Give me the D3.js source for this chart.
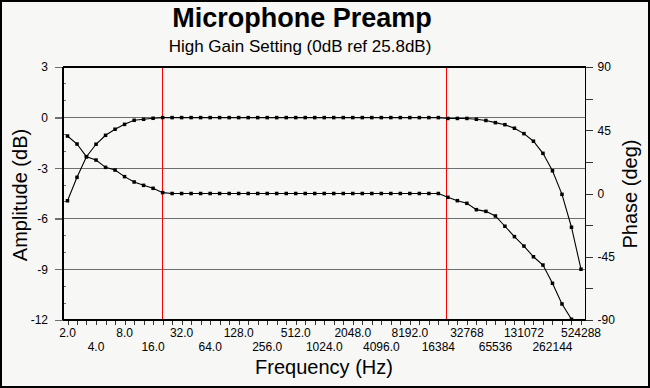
<!DOCTYPE html>
<html>
<head>
<meta charset="utf-8">
<script src="https://cdn.jsdelivr.net/npm/d3@7"></script>
<style>
  body { margin: 0; background: #f7f7f5; }
  svg { display: block; font-family: "Liberation Sans", Arial, sans-serif; }
  .crisp line { shape-rendering: crispEdges; }
</style>
</head>
<body>
<div id="chart"></div>
<script>
// 1/3 octave test frequencies (Hz)
const freqs = [2.0, 2.52, 3.17, 4.0, 5.04, 6.35, 8.0, 10.1, 12.7, 16.0, 20.2, 25.4,
  32.0, 40.3, 50.8, 64.0, 80.6, 101.6, 128.0, 161.3, 203.2, 256.0, 322.5, 406.4,
  512.0, 645.1, 812.7, 1024, 1290, 1625, 2048, 2580, 3251, 4096, 5161, 6502,
  8192, 10321, 13004, 16384, 20643, 26008, 32768, 41285, 52016, 65536, 82570, 104032,
  131072, 165140, 208064, 262144, 330281, 416128, 524288];

const amplitude = [-4.93, -3.54, -2.32, -1.58, -1.05, -0.69, -0.40, -0.16, -0.10, -0.04, 0, 0,
  0, 0, 0, 0, 0, 0, 0, 0, 0, 0, 0, 0,
  0, 0, 0, 0, 0, 0, 0, 0, 0, 0, 0, 0,
  0, 0, 0, 0, -0.05, -0.05, -0.05, -0.10, -0.17, -0.30, -0.42, -0.63,
  -0.95, -1.40, -2.12, -3.15, -4.55, -6.50, -8.99];

const phase = [40.9, 35.2, 26.2, 23.8, 18.6, 16.7, 12.0, 8.2, 5.8, 3.7, 0.6, 0,
  0, 0, 0, 0, 0, 0, 0, 0, 0, 0, 0, 0,
  0, 0, 0, 0, 0, 0, 0, 0, 0, 0, 0, 0,
  0, 0, 0, 0, -2.7, -5.1, -7.0, -11.5, -12.7, -16.0, -23.3, -30.7,
  -37.4, -45.0, -50.9, -63.9, -78.6, -89.5, -112];

const ampTicks = [3, 0, -3, -6, -9, -12];
const ampGrid = [0, -3, -6, -9];
const ampMinor = [2, 1, -1, -2, -4, -5, -7, -8, -10, -11];
const phaseTicks = [90, 67.5, 45, 22.5, 0, -22.5, -45, -67.5, -90];
const octaves = [2, 4, 8, 16, 32, 64, 128, 256, 512, 1024, 2048, 4096, 8192,
  16384, 32768, 65536, 131072, 262144, 524288];
const octaveLabels = ["2.0", "4.0", "8.0", "16.0", "32.0", "64.0", "128.0", "256.0",
  "512.0", "1024.0", "2048.0", "4096.0", "8192.0", "16384", "32768", "65536",
  "131072", "262144", "524288"];
const markers = [20, 20000];

let width = 650,
    height = 388;

let plotL = 63, plotR = 585.5, plotT = 67, plotB = 320;

let svg = d3.select("#chart").append("svg")
  .attr("width", width)
  .attr("height", height);

svg.append("rect")
  .attr("x", 1).attr("y", 1)
  .attr("width", width - 2).attr("height", height - 2)
  .attr("fill", "#f7f7f5")
  .attr("stroke", "#000")
  .attr("stroke-width", 2);

let x = d3.scaleLog().base(2)
  .domain([2, 524288])
  .range([67.5, 581]);

let y = d3.scaleLinear()
  .domain([-12, 3])
  .range([plotB, plotT]);

let yPhase = d3.scaleLinear()
  .domain([-90, 90])
  .range([plotB, plotT]);

svg.append("defs").append("clipPath")
  .attr("id", "plot-clip")
  .append("rect")
  .attr("x", plotL).attr("y", plotT)
  .attr("width", plotR - plotL).attr("height", plotB - plotT);

// grid lines
svg.append("g")
  .attr("class", "crisp")
  .selectAll("line")
  .data(ampGrid)
  .enter().append("line")
    .attr("x1", plotL - 8)
    .attr("x2", plotR)
    .attr("y1", d => y(d))
    .attr("y2", d => y(d))
    .attr("stroke", "#6e6e6e")
    .attr("stroke-width", 1);

// left axis
let yAxis = svg.append("g")
  .attr("class", "crisp")
  .attr("transform", `translate(${plotL},0)`)
  .call(d3.axisLeft(y)
    .tickValues(ampTicks)
    .tickSize(8)
    .tickPadding(7)
    .tickFormat(d => d));
yAxis.select(".domain").remove();
yAxis.selectAll("line").attr("stroke", "#6e6e6e");
yAxis.selectAll("text").attr("font-size", 12).attr("fill", "#000")
  .attr("font-family", "Liberation Sans, Arial, sans-serif");

// minor ticks inside left axis
svg.append("g")
  .attr("class", "crisp")
  .selectAll("line")
  .data(ampMinor)
  .enter().append("line")
    .attr("x1", plotL)
    .attr("x2", plotL + 3)
    .attr("y1", d => y(d))
    .attr("y2", d => y(d))
    .attr("stroke", "#6e6e6e");

// right axis
let pAxis = svg.append("g")
  .attr("class", "crisp")
  .attr("transform", `translate(${plotR},0)`)
  .call(d3.axisRight(yPhase)
    .tickValues(phaseTicks)
    .tickSize(7)
    .tickPadding(5)
    .tickFormat(d => d % 45 === 0 ? d : ""));
pAxis.select(".domain").remove();
pAxis.selectAll("line").attr("stroke", "#333");
pAxis.selectAll("text").attr("font-size", 12).attr("fill", "#000")
  .attr("font-family", "Liberation Sans, Arial, sans-serif");

// bottom axis ticks
let xAxis = svg.append("g")
  .attr("class", "crisp")
  .attr("transform", `translate(0,${plotB})`)
  .call(d3.axisBottom(x)
    .tickValues(freqs)
    .tickSize(5)
    .tickFormat(""));
xAxis.select(".domain").remove();
xAxis.selectAll("line").attr("stroke", "#333");

svg.append("g")
  .selectAll("text")
  .data(octaves)
  .enter().append("text")
    .attr("x", d => x(d))
    .attr("y", (d, i) => i % 2 === 0 ? 337 : 351)
    .attr("text-anchor", "middle")
    .attr("font-size", 12)
    .attr("fill", "#000")
    .text((d, i) => octaveLabels[i]);

// red marker lines
svg.append("g")
  .attr("class", "crisp")
  .selectAll("line")
  .data(markers)
  .enter().append("line")
    .attr("x1", d => x(d))
    .attr("x2", d => x(d))
    .attr("y1", plotT)
    .attr("y2", plotB)
    .attr("stroke", "#ff0000")
    .attr("stroke-width", 1);

// plot frame
let frame = svg.append("g").attr("class", "crisp");
frame.append("line").attr("x1", plotL).attr("x2", plotR).attr("y1", plotT).attr("y2", plotT)
  .attr("stroke", "#000").attr("stroke-width", 1.5);
frame.append("line").attr("x1", plotL).attr("x2", plotR).attr("y1", plotB).attr("y2", plotB)
  .attr("stroke", "#000").attr("stroke-width", 1.5);
frame.append("line").attr("x1", plotL).attr("x2", plotL).attr("y1", plotT).attr("y2", plotB)
  .attr("stroke", "#000").attr("stroke-width", 1.5);
frame.append("line").attr("x1", plotR).attr("x2", plotR).attr("y1", plotT).attr("y2", plotB)
  .attr("stroke", "#000").attr("stroke-width", 1.5);

// curves
let curves = svg.append("g").attr("clip-path", "url(#plot-clip)");

let ampLine = d3.line()
  .x((d, i) => x(freqs[i]))
  .y(d => y(d));

let phaseLine = d3.line()
  .x((d, i) => x(freqs[i]))
  .y(d => yPhase(d));

curves.append("path")
  .datum(amplitude)
  .attr("d", ampLine)
  .attr("fill", "none")
  .attr("stroke", "#000")
  .attr("stroke-width", 1.1);

curves.append("path")
  .datum(phase)
  .attr("d", phaseLine)
  .attr("fill", "none")
  .attr("stroke", "#000")
  .attr("stroke-width", 1.1);

curves.selectAll(".amp-pt")
  .data(amplitude)
  .enter().append("rect")
    .attr("class", "amp-pt")
    .attr("x", (d, i) => x(freqs[i]) - 1.75)
    .attr("y", d => y(d) - 1.75)
    .attr("width", 3.5)
    .attr("height", 3.5)
    .attr("fill", "#000");

curves.selectAll(".ph-pt")
  .data(phase)
  .enter().append("rect")
    .attr("class", "ph-pt")
    .attr("x", (d, i) => x(freqs[i]) - 1.75)
    .attr("y", d => yPhase(d) - 1.75)
    .attr("width", 3.5)
    .attr("height", 3.5)
    .attr("fill", "#000");

// titles
svg.append("text")
  .attr("x", 302).attr("y", 27)
  .attr("text-anchor", "middle")
  .attr("font-size", 27)
  .attr("font-weight", "bold")
  .text("Microphone Preamp");

svg.append("text")
  .attr("x", 300).attr("y", 52)
  .attr("text-anchor", "middle")
  .attr("font-size", 17)
  .text("High Gain Setting (0dB ref 25.8dB)");

svg.append("text")
  .attr("x", 324).attr("y", 374)
  .attr("text-anchor", "middle")
  .attr("font-size", 20)
  .text("Frequency (Hz)");

svg.append("text")
  .attr("transform", "translate(27,195) rotate(-90)")
  .attr("text-anchor", "middle")
  .attr("font-size", 20)
  .text("Amplitude (dB)");

svg.append("text")
  .attr("transform", "translate(637,194) rotate(-90)")
  .attr("text-anchor", "middle")
  .attr("font-size", 20)
  .text("Phase (deg)");
</script>
</body>
</html>
